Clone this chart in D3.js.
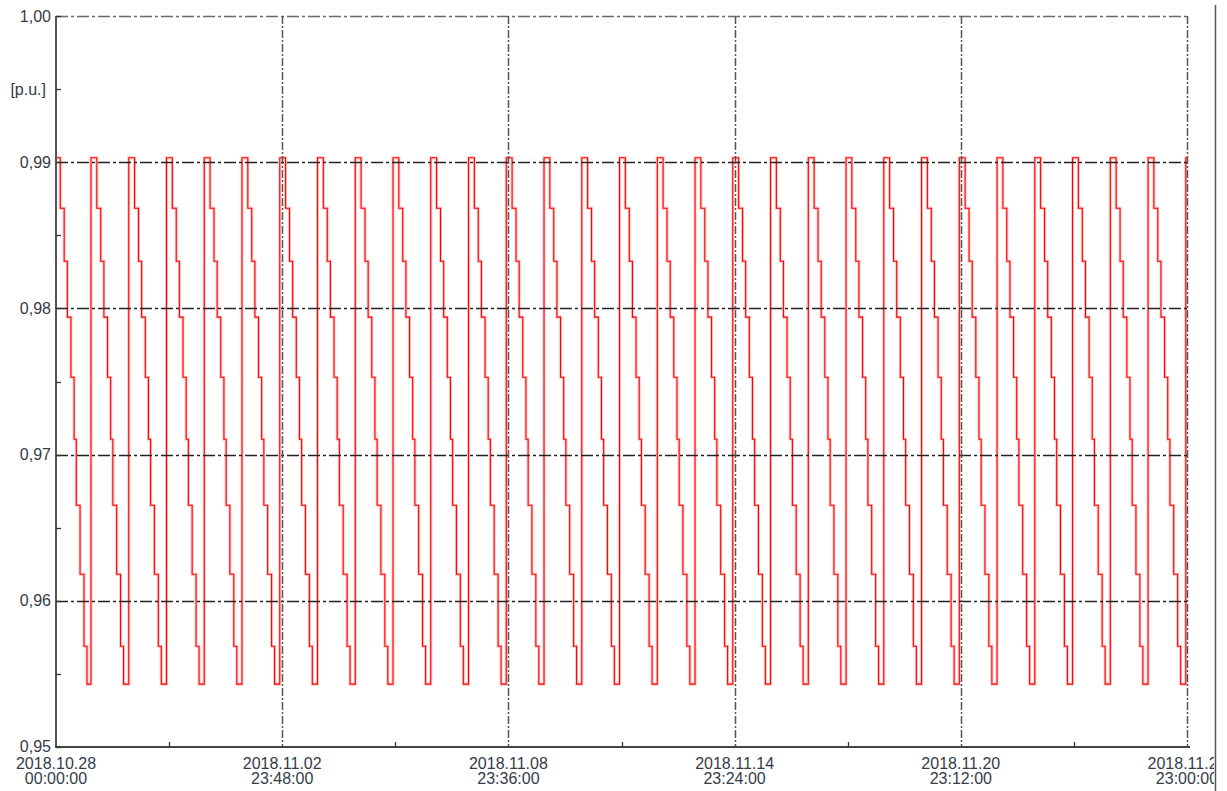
<!DOCTYPE html>
<html>
<head>
<meta charset="utf-8">
<title>p.u. trend</title>
<script src="https://d3js.org/d3.v7.min.js"></script>
<style>
  body { margin: 0; background: #fff; }
  text { font-family: "Liberation Sans", Arial, sans-serif; font-size: 16px; fill: #343c48; }
</style>
</head>
<body>
<svg width="1227" height="791"></svg>
<script>
// axis labels
const xTickLabels = ["2018.10.28 00:00:00", "2018.11.02 23:48:00", "2018.11.08 23:36:00",
                     "2018.11.14 23:24:00", "2018.11.20 23:12:00", "2018.11.26 23:00:00"];
const yTicks = [0.95, 0.96, 0.97, 0.98, 0.99, 1.00];
const yUnit = "[p.u.]";

// moments the level jumps back up to the top
const riseTimes = [
  "2018.10.27 23:00:00",
  "2018.10.28 22:15:00", "2018.10.29 22:15:00", "2018.10.30 22:15:00", "2018.10.31 22:15:00",
  "2018.11.01 22:15:00", "2018.11.02 22:15:00", "2018.11.03 22:15:00", "2018.11.04 22:15:00",
  "2018.11.05 22:15:00", "2018.11.06 22:15:00", "2018.11.07 22:15:00", "2018.11.08 22:15:00",
  "2018.11.09 22:15:00", "2018.11.10 22:15:00", "2018.11.11 22:15:00", "2018.11.12 22:15:00",
  "2018.11.13 22:15:00", "2018.11.14 22:15:00", "2018.11.15 22:15:00", "2018.11.16 22:15:00",
  "2018.11.17 22:15:00", "2018.11.18 22:15:00", "2018.11.19 22:15:00", "2018.11.20 22:15:00",
  "2018.11.21 22:15:00", "2018.11.22 22:15:00", "2018.11.23 22:15:00", "2018.11.24 22:15:00",
  "2018.11.25 22:15:00", "2018.11.26 22:15:00"
];
// hours after each rise when a new level starts, and that level
const stepHours  = [0, 3.7, 6.2, 8.2, 10.5, 12.5, 13.9, 16.3, 18.8, 20.7];
const stepLevels = [0.9903, 0.98685, 0.98323, 0.9794, 0.97529, 0.97105, 0.96654, 0.96182, 0.95689, 0.9543];

const parse = d3.utcParse("%Y.%m.%d %H:%M:%S");
const xTicks = xTickLabels.map(parse);

const svg = d3.select("svg");
const mLeft = 56, mRight = 1187, mTop = 16, mBottom = 747;

const x = d3.scaleUtc()
  .domain([xTicks[0], xTicks[xTicks.length - 1]])
  .range([mLeft, mRight]);
const y = d3.scaleLinear()
  .domain([0.95, 1.00])
  .range([mBottom, mTop]);

// step points
const points = [];
riseTimes.forEach(function(r) {
  const t0 = parse(r);
  stepHours.forEach(function(h, j) {
    points.push({ t: new Date(+t0 + h * 3600e3), v: stepLevels[j] });
  });
});
points.push({ t: x.domain()[1], v: points[points.length - 1].v });

svg.append("clipPath").attr("id", "plot")
  .append("rect").attr("x", mLeft).attr("y", mTop - 4)
  .attr("width", mRight - mLeft).attr("height", mBottom - mTop + 4);
svg.append("clipPath").attr("id", "page")
  .append("rect").attr("x", 0).attr("y", 0).attr("width", 1214).attr("height", 791);

const line = d3.line()
  .x(function(d) { return x(d.t); })
  .y(function(d) { return y(d.v); })
  .curve(d3.curveStepAfter);

const g = svg.append("g").attr("clip-path", "url(#plot)");
g.append("path").datum(points)
  .attr("d", line).attr("fill", "none")
  .attr("stroke", "#ff8080").attr("stroke-width", 3).attr("opacity", 0.45);
g.append("path").datum(points)
  .attr("d", line).attr("fill", "none")
  .attr("stroke", "#ff0000").attr("stroke-width", 1.1);

// horizontal grid
svg.selectAll(".hgrid")
  .data(yTicks.filter(function(d) { return d > 0.95; }))
  .enter().append("line")
    .attr("x1", mLeft).attr("x2", mRight)
    .attr("y1", function(d) { return Math.round(y(d)) + 0.5; })
    .attr("y2", function(d) { return Math.round(y(d)) + 0.5; })
    .attr("stroke", function(d) { return d === 1.00 ? "#6a6a6a" : "#222"; })
    .attr("stroke-width", 1.5)
    .attr("stroke-dasharray", "12,3,3,3");

// vertical grid
svg.selectAll(".vgrid")
  .data(xTicks.slice(1))
  .enter().append("line")
    .attr("x1", function(d) { return Math.round(x(d)) + 0.5; })
    .attr("x2", function(d) { return Math.round(x(d)) + 0.5; })
    .attr("y1", mTop).attr("y2", mBottom)
    .attr("stroke", "#555").attr("stroke-width", 1.5)
    .attr("stroke-dasharray", "8,2,2,2");

// axes
svg.append("line").attr("x1", mLeft).attr("x2", mLeft).attr("y1", mTop).attr("y2", mBottom + 1)
  .attr("stroke", "#555").attr("stroke-width", 2);
svg.append("line").attr("x1", mLeft).attr("x2", mRight + 3).attr("y1", mBottom).attr("y2", mBottom)
  .attr("stroke", "#444").attr("stroke-width", 2);

// y ticks: major + minor
const yMinor = yTicks.slice(0, -1).map(function(d) { return d + 0.005; });
svg.selectAll(".ytick")
  .data(yTicks.concat(yMinor))
  .enter().append("line")
    .attr("x1", mLeft).attr("x2", mLeft + 5)
    .attr("y1", function(d) { return Math.round(y(d)) + 0.5; })
    .attr("y2", function(d) { return Math.round(y(d)) + 0.5; })
    .attr("stroke", "#333").attr("stroke-width", 1.3);

svg.selectAll(".ylab")
  .data(yTicks)
  .enter().append("text")
    .attr("x", mLeft - 5)
    .attr("y", function(d) { return y(d) - (d === 0.95 ? 1 : 0); })
    .attr("dy", "0.35em")
    .attr("text-anchor", "end")
    .text(function(d) { return d3.format(".2f")(d).replace(".", ","); });

svg.append("text")
  .attr("x", mLeft - 10).attr("y", y(0.995)).attr("dy", "0.35em")
  .attr("text-anchor", "end").text(yUnit);

// x ticks: minor at midpoints
const xMinor = xTicks.slice(0, -1).map(function(d, i) {
  return new Date((+d + +xTicks[i + 1]) / 2);
});
svg.selectAll(".xtick")
  .data(xMinor)
  .enter().append("line")
    .attr("x1", function(d) { return Math.round(x(d)) + 0.5; })
    .attr("x2", function(d) { return Math.round(x(d)) + 0.5; })
    .attr("y1", mBottom).attr("y2", mBottom - 5)
    .attr("stroke", "#333").attr("stroke-width", 1.3);

const xl = svg.append("g").attr("clip-path", "url(#page)");
xTickLabels.forEach(function(lbl, i) {
  const parts = lbl.split(" ");
  const t = xl.append("text")
    .attr("x", x(xTicks[i])).attr("y", 768.5)
    .attr("text-anchor", "middle");
  t.append("tspan").attr("x", x(xTicks[i])).text(parts[0]);
  t.append("tspan").attr("x", x(xTicks[i])).attr("dy", 15).text(parts[1]);
});

// right panel border
svg.append("line").attr("x1", 1215.5).attr("x2", 1215.5).attr("y1", 5).attr("y2", 791)
  .attr("stroke", "#555").attr("stroke-width", 1.5);
</script>
</body>
</html>
